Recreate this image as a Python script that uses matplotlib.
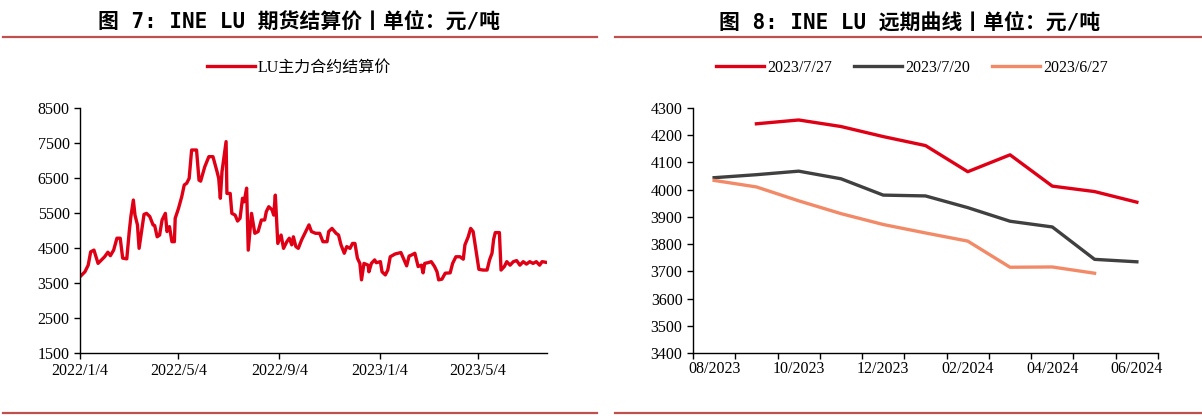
import numpy as np
import pandas as pd
import matplotlib
matplotlib.use('Agg')
import matplotlib.pyplot as plt
from matplotlib.lines import Line2D

plt.rcParams['font.family'] = ['Liberation Serif', 'Noto Sans CJK SC']

#%% data - left chart (days counted from 2022/1/4, settlement price)
start_date = '2022-01-04'
lu_days = [0, 6, 10, 13, 17, 22, 30, 34, 37, 41, 45, 49, 52, 57, 60, 62, 65, 67, 70, 72,
           75, 78, 81, 85, 89, 91, 94, 97, 100, 104, 106, 109, 112, 115, 116, 120, 124, 127,
           130, 133, 136, 142, 145, 147, 152, 157, 162, 167, 169, 171, 173, 178, 179, 183,
           185, 189, 192, 195, 198, 200, 203, 205, 209, 213, 217, 221, 225, 227, 230, 234,
           236, 238, 241, 245, 248, 252, 255, 258, 260, 263, 266, 270, 274, 279, 282, 287,
           292, 296, 301, 303, 307, 312, 315, 318, 322, 325, 329, 332, 335, 338, 341, 343,
           346, 351, 352, 355, 359, 361, 366, 368, 372, 375, 378, 384, 391, 394, 398, 401,
           404, 408, 412, 416, 418, 420, 424, 428, 432, 435, 437, 441, 445, 451, 454, 458,
           463, 467, 469, 473, 476, 479, 483, 486, 491, 496, 499, 502, 504, 506, 511, 513,
           517, 520, 524, 528, 532, 536, 540, 544, 548, 552, 556, 560, 563, 568]
lu_price = [3680, 3820, 4010, 4390, 4440, 4060, 4250, 4380, 4280, 4440, 4780, 4780, 4210, 4190,
            4970, 5400, 5870, 5440, 5160, 4490, 4970, 5460, 5490, 5400, 5160, 5140, 4820, 4870,
            5300, 5490, 4970, 5110, 4680, 4680, 5350, 5630, 5970, 6300, 6350, 6490, 7300, 7300,
            6440, 6410, 6820, 7110, 7110, 6680, 6490, 5920, 6680, 7540, 6060, 6060, 5490, 5440,
            5270, 5350, 5920, 5820, 6210, 4440, 5490, 4920, 4970, 5300, 5300, 5540, 5680, 5590,
            5440, 6010, 4630, 4870, 4490, 4680, 4780, 4590, 4820, 4540, 4490, 4730, 4920, 5160,
            4970, 4920, 4920, 4680, 4680, 4970, 5060, 4920, 4870, 4590, 4350, 4540, 4490, 4630,
            4630, 4210, 4060, 3590, 4060, 4010, 3820, 4060, 4160, 4080, 4110, 3820, 3730, 3870,
            4250, 4330, 4370, 4210, 3990, 4270, 4300, 4350, 3970, 4010, 3790, 4060, 4080, 4110,
            3970, 3820, 3590, 3610, 3780, 3790, 4060, 4250, 4250, 4180, 4590, 4820, 5060, 4970,
            4350, 3890, 3870, 3870, 4160, 4350, 4750, 4940, 4940, 3870, 3970, 4110, 4010, 4110,
            4140, 4010, 4110, 4040, 4110, 4060, 4110, 4010, 4110, 4090]
left_ticks = ['2022/1/4', '2022/5/4', '2022/9/4', '2023/1/4', '2023/5/4']

#%% data - right chart (forward curve)
months = ['08/2023', '09/2023', '10/2023', '11/2023', '12/2023', '01/2024',
          '02/2024', '03/2024', '04/2024', '05/2024', '06/2024']
curve_0727 = [np.nan, 4242, 4256, 4232, 4195, 4162, 4066, 4128, 4013, 3993, 3954]
curve_0720 = [4044, 4055, 4068, 4040, 3980, 3977, 3934, 3884, 3863, 3744, 3735]
curve_0627 = [4034, 4010, 3959, 3912, 3872, 3841, 3811, 3715, 3716, 3693, np.nan]
curve_names = ['2023/7/27', '2023/7/20', '2023/6/27']

red = '#E00016'
dark = '#404040'
salmon = '#F28A68'
rule = '#C0504D'
lw = 2.4
tsize = 11.5

fig = plt.figure(figsize=(12.02, 4.16), dpi=100)
ax1 = fig.add_axes([80/1202, 63/416, 467/1202, 245/416])
ax2 = fig.add_axes([693/1202, 63/416, 465/1202, 245/416])

title_font = dict(family=['DejaVu Sans Mono', 'Noto Sans CJK SC'], fontsize=15,
                  fontweight='bold', ha='center', va='center')
fig.text(299/1202, 1 - 22/416, '图 7: INE LU 期货结算价丨单位：元/吨', **title_font)
fig.text(910/1202, 1 - 22/416, '图 8: INE LU 远期曲线丨单位：元/吨', **title_font)

# divider lines
for x0, x1 in [(3, 597), (615, 1202)]:
    for yy in [37, 413]:
        fig.add_artist(Line2D([x0/1202, x1/1202], [1 - yy/416, 1 - yy/416],
                              color=rule, lw=1.6, transform=fig.transFigure))

#%% left chart
base = pd.Timestamp(start_date)
dates = base + pd.to_timedelta(lu_days, unit='D')
ax1.plot(dates, lu_price, color=red, lw=lw, label='LU主力合约结算价')
ax1.set_xlim(base, base + pd.Timedelta(days=569))
ax1.set_ylim(1500, 8500)
ax1.set_yticks(np.arange(1500, 8501, 1000))
ax1.set_xticks(pd.to_datetime(left_ticks))
ax1.set_xticklabels(left_ticks)

ax1.legend(loc='center', bbox_to_anchor=(299/1202, 1 - 68/416),
           bbox_transform=fig.transFigure, frameon=False,
           handlelength=3.0, handletextpad=0.2, fontsize=11.5)

#%% right chart
xs = np.arange(len(months))
for vals, c, name in zip([curve_0727, curve_0720, curve_0627], [red, dark, salmon], curve_names):
    ax2.plot(xs, vals, color=c, lw=lw, label=name)
ax2.set_xlim(-0.5, len(months) - 0.5)
ax2.set_ylim(3400, 4300)
ax2.set_yticks(np.arange(3400, 4301, 100))
ax2.set_xticks(np.arange(-0.5, len(months), 1))
ax2.set_xticklabels([])
ax2.set_xticks(xs[::2], minor=True)
ax2.set_xticklabels(months[::2], minor=True)
ax2.tick_params(axis='x', which='minor', length=0, pad=6)

ax2.legend(loc='center', bbox_to_anchor=(912/1202, 1 - 68/416),
           bbox_transform=fig.transFigure, frameon=False, ncol=3,
           handlelength=3.0, handletextpad=0.2, columnspacing=1.4, fontsize=11.5)

for ax in (ax1, ax2):
    ax.spines['top'].set_visible(False)
    ax.spines['right'].set_visible(False)
    for s in ('left', 'bottom'):
        ax.spines[s].set_linewidth(1.0)
        ax.spines[s].set_color('black')
    ax.tick_params(axis='both', which='major', direction='out', length=4, width=1,
                   labelsize=tsize, color='black')
    ax.tick_params(axis='x', which='minor', labelsize=tsize)
    ax.set_facecolor('white')

fig.savefig('out.png', dpi=100, facecolor='white')
